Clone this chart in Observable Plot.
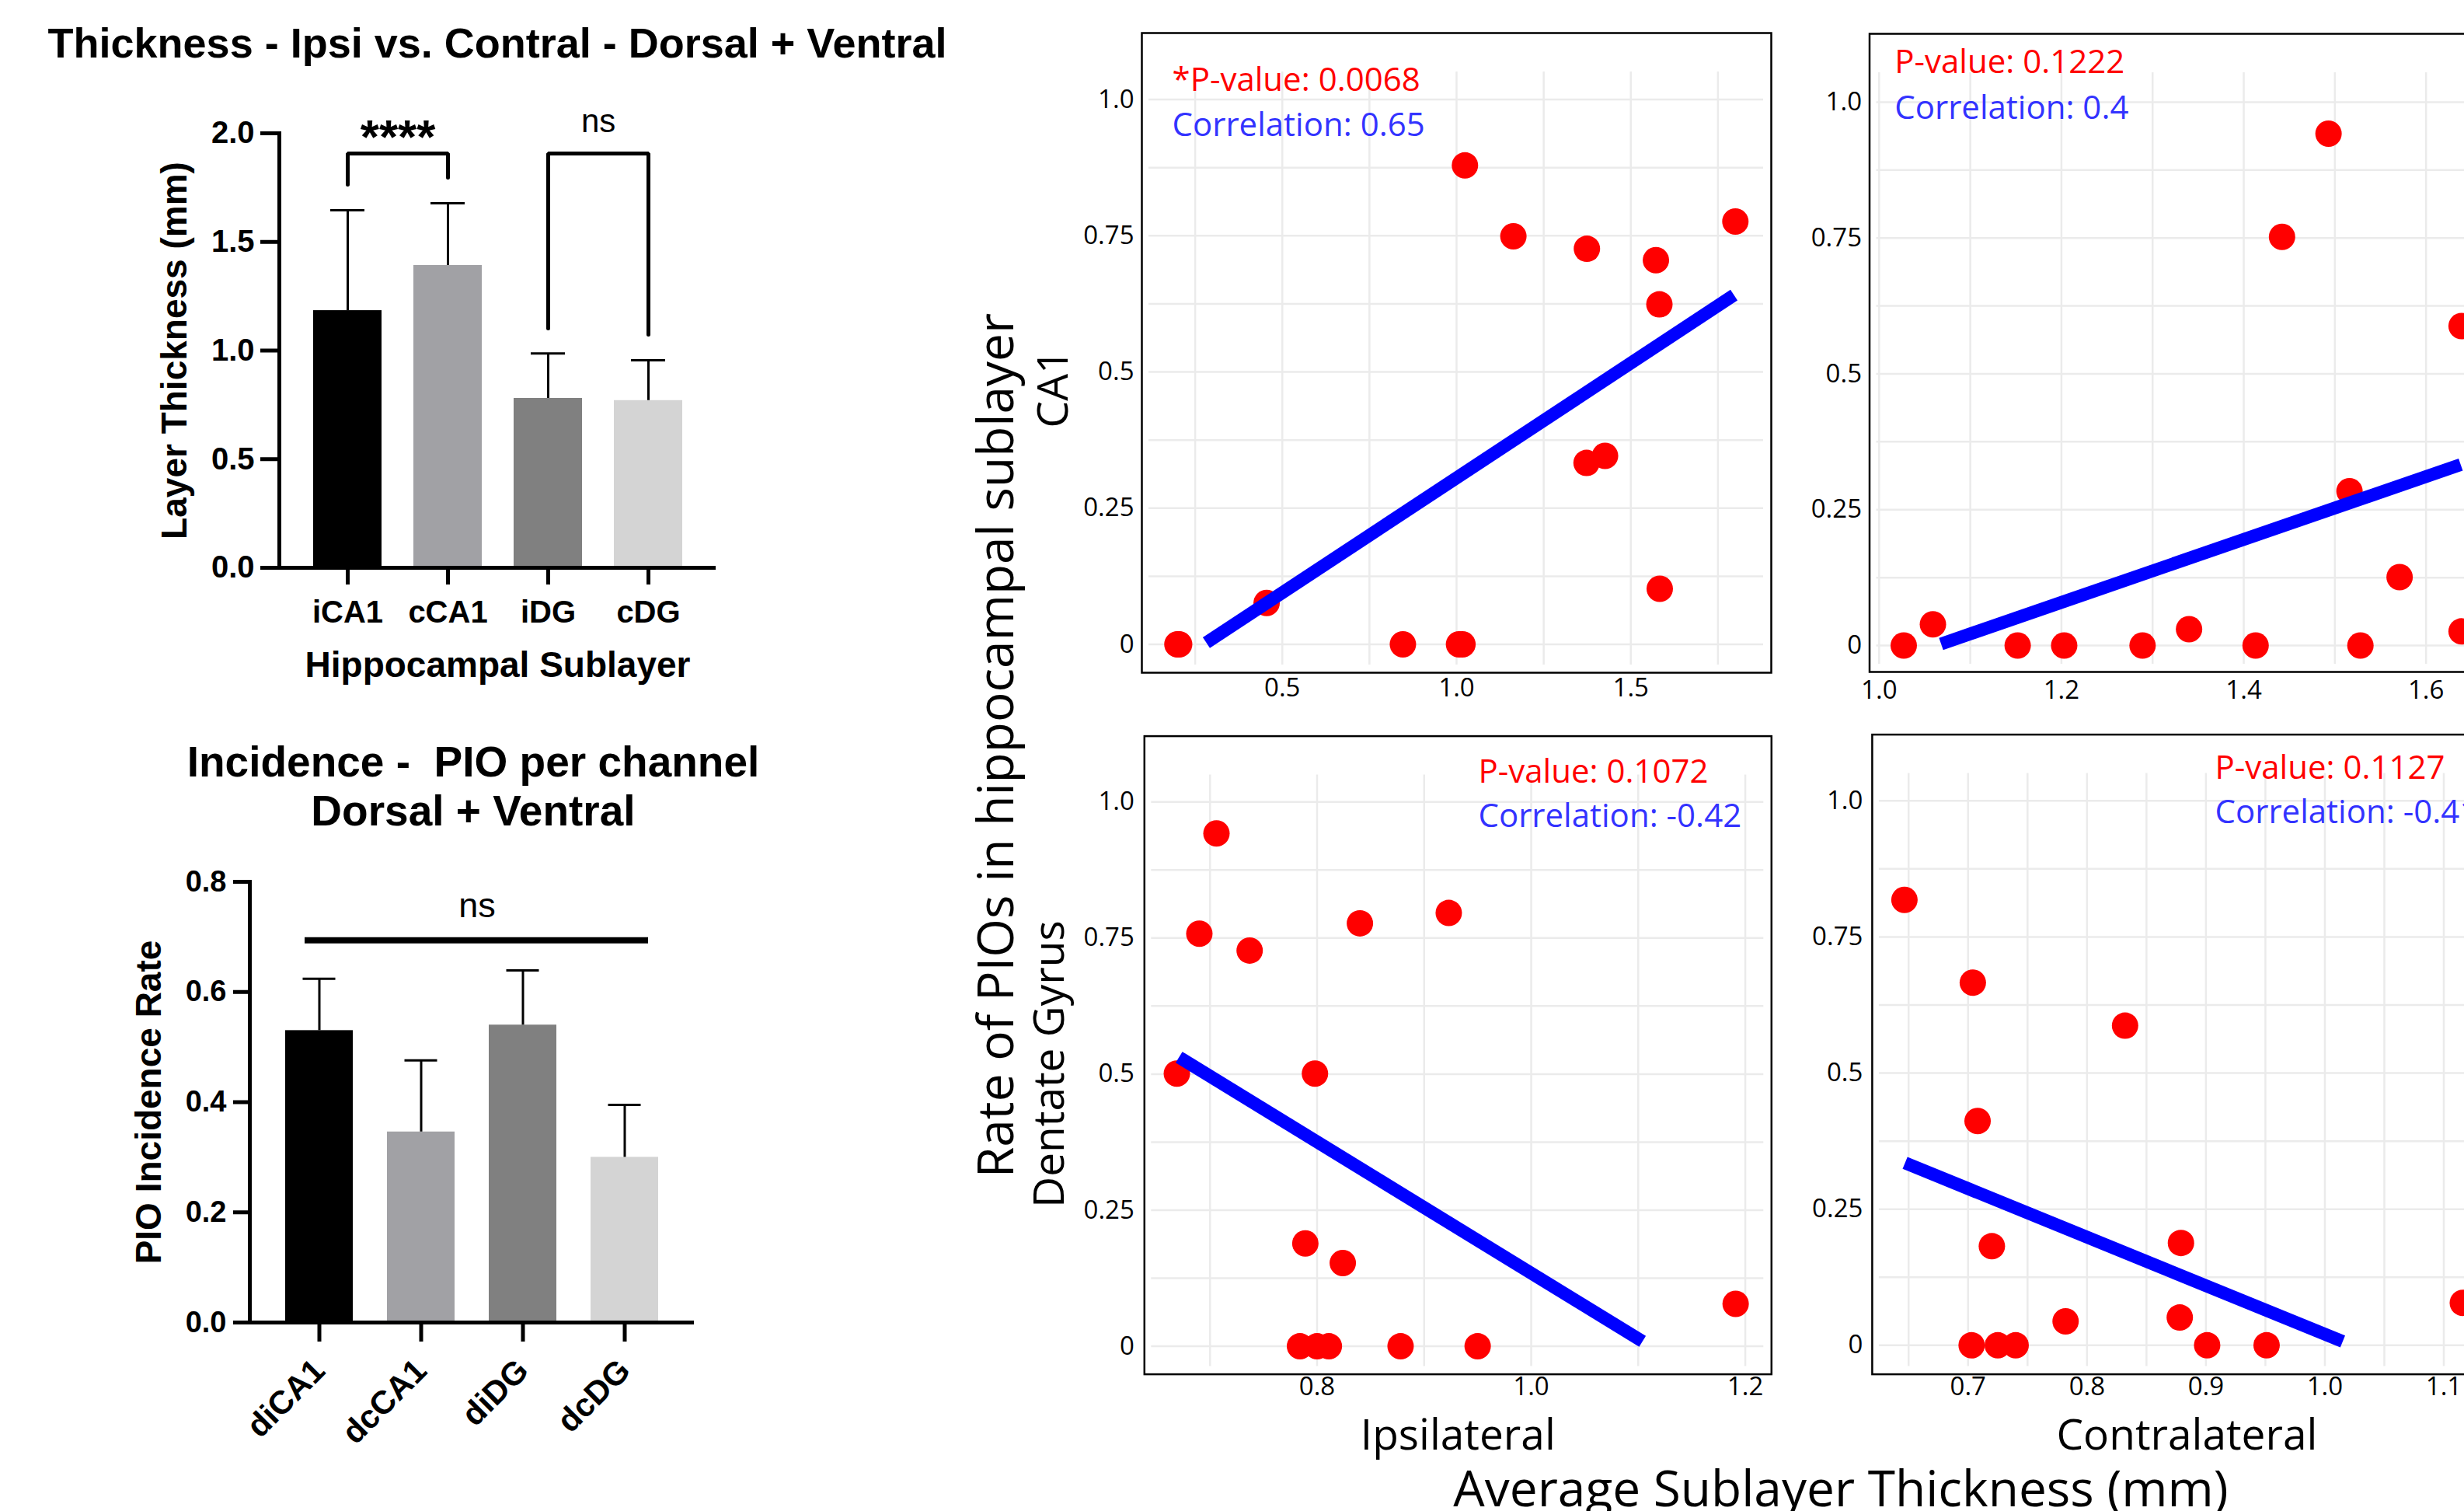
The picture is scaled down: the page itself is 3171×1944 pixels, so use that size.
<!DOCTYPE html>
<html><head><meta charset="utf-8">
<script src="https://cdn.jsdelivr.net/npm/d3@7"></script>
<script src="https://cdn.jsdelivr.net/npm/@observablehq/plot@0.6"></script>
<style>
html,body{margin:0;padding:0;background:#fff;overflow:hidden;}
#fig{position:relative;width:3171px;height:1944px;overflow:hidden;background:#fff;}
.panel{position:absolute;}
.panel svg{max-width:none;display:block;overflow:visible;}
.lbl{position:absolute;white-space:pre;line-height:1;transform-origin:center;}
</style></head><body><div id="fig"></div>
<script>
// ---------- DATA ----------
// Panel: Thickness - Ipsi vs. Contral
const thickCats = ["iCA1", "cCA1", "iDG", "cDG"];
const thickMean = [1.184, 1.392, 0.780, 0.770];
const thickUpper = [1.646, 1.678, 0.987, 0.955];   // mean + SD
const thickTicks = [0, 0.5, 1, 1.5, 2];
const bracketCA1 = [1.764, 1.907, 1.907, 1.796];
const bracketDG = [1.102, 1.907, 1.907, 1.073];
const starLevel = 1.978, nsLevelA = 2.055;

// Panel: Incidence - PIO per channel
const incCats = ["diCA1", "dcCA1", "diDG", "dcDG"];
const incMean = [0.530, 0.346, 0.540, 0.300];
const incUpper = [0.624, 0.476, 0.639, 0.395];
const incTicks = [0, 0.2, 0.4, 0.6, 0.8];
const nsLineB = 0.694, nsLevelB = 0.756;

const barFills = ["#000000", "#a1a1a5", "#808080", "#d4d4d4"];

// Scatter panels
const rateTicks = [0, 0.25, 0.5, 0.75, 1];
const rateTickLabels = ["0", "0.25", "0.5", "0.75", "1.0"];
const rateGrid = [0, 0.125, 0.25, 0.375, 0.5, 0.625, 0.75, 0.875, 1];

const ca1IpsiX = [0.199, 0.204, 0.455, 0.846, 1.007, 1.017, 1.024, 1.163, 1.374, 1.373, 1.426, 1.572, 1.582, 1.583, 1.800];
const ca1IpsiY = [0, 0, 0.076, 0, 0, 0, 0.879, 0.749, 0.726, 0.333, 0.346, 0.705, 0.624, 0.102, 0.776];
const ca1IpsiFitX = [0.282, 1.796];
const ca1IpsiFitY = [0.003, 0.641];
const ca1IpsiStats = ["*P-value: 0.0068", "Correlation: 0.65"];

const ca1ContraX = [1.027, 1.059, 1.152, 1.203, 1.289, 1.340, 1.413, 1.442, 1.493, 1.516, 1.528, 1.571, 1.639, 1.639];
const ca1ContraY = [0, 0.039, 0, 0, 0, 0.030, 0, 0.752, 0.942, 0.284, 0, 0.126, 0.588, 0.026];
const ca1ContraFitX = [1.068, 1.638];
const ca1ContraFitY = [0.003, 0.333];
const ca1ContraStats = ["P-value: 0.1222", "Correlation: 0.4"];

const dgIpsiX = [0.669, 0.690, 0.706, 0.737, 0.784, 0.800, 0.811, 0.789, 0.798, 0.824, 0.840, 0.878, 0.923, 0.950, 1.191];
const dgIpsiY = [0.501, 0.758, 0.942, 0.727, 0, 0, 0, 0.189, 0.501, 0.153, 0.777, 0, 0.796, 0, 0.078];
const dgIpsiFitX = [0.671, 1.104];
const dgIpsiFitY = [0.531, 0.009];
const dgIpsiStats = ["P-value: 0.1072", "Correlation: -0.42"];

const dgContraX = [0.6465, 0.704, 0.708, 0.703, 0.720, 0.725, 0.740, 0.782, 0.832, 0.879, 0.878, 0.901, 0.951, 1.116];
const dgContraY = [0.818, 0.666, 0.412, 0, 0.182, 0, 0, 0.044, 0.587, 0.188, 0.051, 0, 0, 0.078];
const dgContraFitX = [0.647, 1.015];
const dgContraFitY = [0.335, 0.007];
const dgContraStats = ["P-value: 0.1127", "Correlation: -0.41"];

// ---------- HELPERS ----------
const fig = document.getElementById("fig");
function place(node, left, top, w, h) {
  const d = document.createElement("div");
  d.className = "panel";
  Object.assign(d.style, {left: left + "px", top: top + "px", width: w + "px", height: h + "px"});
  d.appendChild(node);
  fig.appendChild(d);
}
function label(text, cx, cy, o) {
  const d = document.createElement("div");
  d.className = "lbl";
  d.textContent = text;
  Object.assign(d.style, {
    left: cx + "px", top: cy + "px", fontFamily: o.font, fontSize: o.size + "px",
    fontWeight: o.weight || "normal", color: o.color || "black",
    transform: `translate(-50%,-50%) rotate(${o.rotate || 0}deg)`
  });
  fig.appendChild(d);
}
const ARIAL = "'Liberation Sans', Arial, sans-serif";
const SANS = "'Open Sans', 'Noto Sans', sans-serif";

// ---------- BAR CHART: THICKNESS ----------
{
  const rows = thickCats.map((c, i) => ({cat: c, mean: thickMean[i], up: thickUpper[i]}));
  const brCA1 = bracketCA1.map((v, i) => ({cat: i < 2 ? thickCats[0] : thickCats[1], v}));
  const brDG = bracketDG.map((v, i) => ({cat: i < 2 ? thickCats[2] : thickCats[3], v}));
  const p = Plot.plot({
    width: 1000, height: 900,
    marginLeft: 359, marginRight: 79, marginTop: 171, marginBottom: 170,
    style: {background: "transparent", fontFamily: ARIAL, fontWeight: "bold", color: "black"},
    x: {domain: thickCats, paddingInner: 0.32, paddingOuter: 0.333},
    y: {domain: [0, 2]},
    color: {domain: thickCats, range: barFills},
    marks: [
      Plot.barY(rows, {x: "cat", y: "mean", fill: "cat"}),
      Plot.ruleX(rows, {x: "cat", y1: "mean", y2: "up", strokeWidth: 3}),
      Plot.tickY(rows, {x: "cat", y: "up", strokeWidth: 3, insetLeft: 22, insetRight: 22}),
      Plot.ruleY([0], {strokeWidth: 5}),
      Plot.frame({anchor: "left", strokeWidth: 5}),
      Plot.axisY({ticks: thickTicks, tickFormat: d3.format(".1f"), tickSize: 24, tickPadding: 8, fontSize: 40, strokeWidth: 5, label: null}),
      Plot.axisX({tickSize: 22, tickPadding: 20, fontSize: 40, strokeWidth: 5, label: null}),
      Plot.line(brCA1, {x: "cat", y: "v", strokeWidth: 5, strokeLinejoin: "miter"}),
      Plot.line(brDG, {x: "cat", y: "v", strokeWidth: 5, strokeLinejoin: "miter"}),
      Plot.text([starLevel], {x: () => thickCats[0], y: d => d, text: () => "****", dx: 64.6, fontSize: 62}),
      Plot.text([nsLevelA], {x: () => thickCats[2], y: d => d, text: () => "ns", dx: 64.6, fontSize: 42, fontWeight: "normal"}),
      Plot.text(["Layer Thickness (mm)"], {frameAnchor: "left", rotate: -90, dx: -152, textAnchor: "middle", lineAnchor: "top", fontSize: 46, text: d => d}),
      Plot.text(["Hippocampal Sublayer"], {frameAnchor: "bottom", dy: 108, textAnchor: "middle", lineAnchor: "top", fontSize: 46, text: d => d})
    ]
  });
  place(p, 0, 0, 1000, 900);
}

// ---------- BAR CHART: INCIDENCE ----------
{
  const rows = incCats.map((c, i) => ({cat: c, mean: incMean[i], up: incUpper[i]}));
  const p = Plot.plot({
    width: 1000, height: 1044,
    marginLeft: 321, marginRight: 107, marginTop: 234, marginBottom: 243,
    style: {background: "transparent", fontFamily: ARIAL, fontWeight: "bold", color: "black"},
    x: {domain: incCats, paddingInner: 0.336, paddingOuter: 0.351},
    y: {domain: [0, 0.8]},
    color: {domain: incCats, range: barFills},
    marks: [
      Plot.barY(rows, {x: "cat", y: "mean", fill: "cat"}),
      Plot.ruleX(rows, {x: "cat", y1: "mean", y2: "up", strokeWidth: 3}),
      Plot.tickY(rows, {x: "cat", y: "up", strokeWidth: 3, insetLeft: 22.5, insetRight: 22.5}),
      Plot.ruleY([0], {strokeWidth: 5}),
      Plot.frame({anchor: "left", strokeWidth: 5}),
      Plot.axisY({ticks: incTicks, tickFormat: d3.format(".1f"), tickSize: 21, tickPadding: 9, fontSize: 38, strokeWidth: 5, label: null}),
      Plot.axisX({tickSize: 25, tickPadding: 30, tickRotate: -45, fontSize: 42, strokeWidth: 5, label: null}),
      Plot.ruleY([nsLineB], {x1: () => incCats[0], x2: () => incCats[3], strokeWidth: 8, insetLeft: 25, insetRight: 13}),
      Plot.text([nsLevelB], {x: () => incCats[1], y: d => d, text: () => "ns", dx: 72, fontSize: 45, fontWeight: "normal"}),
      Plot.text(["PIO Incidence Rate"], {frameAnchor: "left", rotate: -90, dx: -147.5, textAnchor: "middle", lineAnchor: "top", fontSize: 46, text: d => d})
    ]
  });
  place(p, 0, 900, 1000, 1044);
}

// ---------- SCATTER PANELS ----------
function scatter(xs, ys, fitX, fitY, stats, o) {
  const pts = xs.map((x, i) => ({x, y: ys[i]}));
  const fit = fitX.map((x, i) => ({x, y: fitY[i]}));
  const marks = [
    Plot.ruleX(o.xGrid, {stroke: "#ebebeb", strokeWidth: 2.5, insetTop: 50, insetBottom: 10}),
    Plot.ruleY(rateGrid, {stroke: "#ebebeb", strokeWidth: 2.5, insetLeft: 9, insetRight: 10}),
    Plot.frame({stroke: "black", strokeWidth: 2.5}),
    Plot.dot(pts, {x: "x", y: "y", r: 17, fill: "#ff0000"}),
    Plot.line(fit, {x: "x", y: "y", stroke: "#0000ff", strokeWidth: 16.5, strokeLinecap: "butt"}),
    Plot.axisX({ticks: o.xTicks, tickFormat: d3.format(".1f"), tickSize: 0, tickPadding: o.xPad, fontSize: 33, label: null}),
    Plot.axisY({ticks: rateTicks, tickFormat: d => rateTickLabels[rateTicks.indexOf(d)], tickSize: 0, tickPadding: o.yPad, fontSize: 33, label: null}),
    Plot.text([stats[0]], {x: () => o.annX, y: () => o.annY[0], text: d => d, textAnchor: "start", lineAnchor: "middle", fill: "#ff0000", fontSize: 42}),
    Plot.text([stats[1]], {x: () => o.annX, y: () => o.annY[1], text: d => d, textAnchor: "start", lineAnchor: "middle", fill: "#3333ff", fontSize: 42})
  ];
  if (o.xLabel) marks.push(Plot.text([o.xLabel], {frameAnchor: "bottom", dy: 58, textAnchor: "middle", lineAnchor: "top", fontSize: 55, text: d => d}));
  const p = Plot.plot({
    width: o.w, height: o.h,
    marginLeft: o.mL, marginRight: o.mR, marginTop: o.mT, marginBottom: o.mB,
    style: {background: "transparent", fontFamily: SANS, color: "black"},
    x: {domain: o.xDomain}, y: {domain: o.yDomain},
    marks
  });
  place(p, o.left, o.top, o.w, o.h);
}

scatter(ca1IpsiX, ca1IpsiY, ca1IpsiFitX, ca1IpsiFitY, ca1IpsiStats, {
  left: 1380, top: 0, w: 920, h: 930, mL: 89, mR: 21, mT: 42, mB: 65,
  xDomain: [0.097, 1.903], yDomain: [-0.052, 1.122],
  xTicks: [0.5, 1, 1.5], xGrid: [0.25, 0.5, 0.75, 1, 1.25, 1.5, 1.75],
  xPad: 7, yPad: 10, annX: 0.184, annY: [1.035, 0.952]
});
scatter(ca1ContraX, ca1ContraY, ca1ContraFitX, ca1ContraFitY, ca1ContraStats, {
  left: 2316, top: 0, w: 920, h: 930, mL: 89.5, mR: 20.5, mT: 43, mB: 66,
  xDomain: [0.9895, 1.680], yDomain: [-0.0486, 1.1257],
  xTicks: [1.0, 1.2, 1.4, 1.6], xGrid: [1.0, 1.1, 1.2, 1.3, 1.4, 1.5, 1.6],
  xPad: 11, yPad: 10, annX: 1.017, annY: [1.073, 0.988]
});
scatter(dgIpsiX, dgIpsiY, dgIpsiFitX, dgIpsiFitY, dgIpsiStats, {
  left: 1380, top: 900, w: 920, h: 1044, mL: 92.3, mR: 20.7, mT: 46.6, mB: 176.4,
  xDomain: [0.6387, 1.2245], yDomain: [-0.0514, 1.1208],
  xTicks: [0.8, 1.0, 1.2], xGrid: [0.7, 0.8, 0.9, 1.0, 1.1, 1.2],
  xPad: 3, yPad: 13, annX: 0.9506, annY: [1.0545, 0.973], xLabel: "Ipsilateral"
});
scatter(dgContraX, dgContraY, dgContraFitX, dgContraFitY, dgContraStats, {
  left: 2316, top: 900, w: 920, h: 1044, mL: 92.9, mR: 17.1, mT: 44.6, mB: 176.4,
  xDomain: [0.6194, 1.1486], yDomain: [-0.0532, 1.1216],
  xTicks: [0.7, 0.8, 0.9, 1.0, 1.1], xGrid: [0.65, 0.7, 0.75, 0.8, 0.85, 0.9, 0.95, 1.0, 1.05, 1.1],
  xPad: 3, yPad: 12, annX: 0.9076, annY: [1.0597, 0.978], xLabel: "Contralateral"
});

// ---------- TITLES & SHARED LABELS ----------
label("Thickness - Ipsi vs. Contral - Dorsal + Ventral", 640, 55, {font: ARIAL, size: 54, weight: "bold"});
label("Incidence -  PIO per channel", 609, 980, {font: ARIAL, size: 55, weight: "bold"});
label("Dorsal + Ventral", 609, 1043, {font: ARIAL, size: 55, weight: "bold"});
label("Rate of PIOs in hippocampal sublayer", 1280, 959, {font: SANS, size: 64, rotate: -90});
label("CA1", 1352, 500, {font: SANS, size: 55, rotate: -90});
label("Dentate Gyrus", 1347, 1369, {font: SANS, size: 55, rotate: -90});
label("Average Sublayer Thickness (mm)", 2369, 1914, {font: SANS, size: 64});
</script></body></html>
